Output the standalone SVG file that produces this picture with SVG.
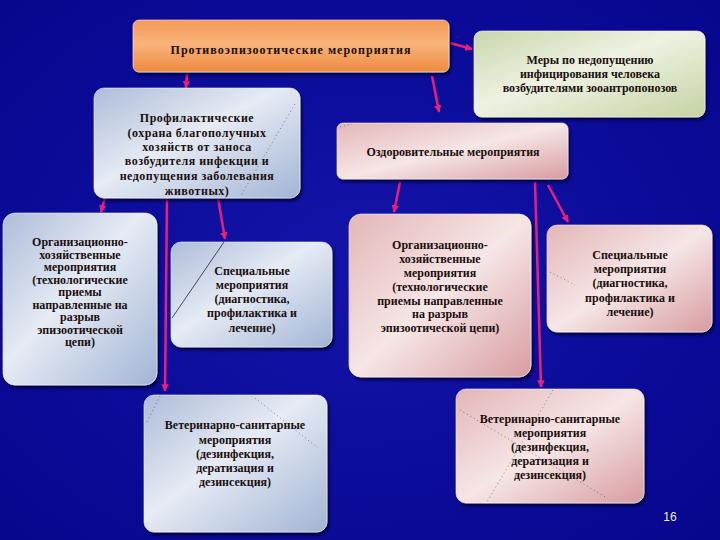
<svg xmlns="http://www.w3.org/2000/svg" width="720" height="540" viewBox="0 0 720 540">
<defs>
<radialGradient id="bg" cx="50%" cy="50%" r="75%">
<stop offset="0" stop-color="#1414aa"/>
<stop offset="1" stop-color="#05058c"/>
</radialGradient>
<linearGradient id="gOrange" x1="0" y1="0" x2="0" y2="1">
<stop offset="0" stop-color="#f49a58"/>
<stop offset="0.45" stop-color="#f8b47c"/>
<stop offset="1" stop-color="#ee8a3e"/>
</linearGradient>
<linearGradient id="gGreen" x1="0" y1="0" x2="1" y2="1">
<stop offset="0" stop-color="#c9d6ad"/>
<stop offset="0.45" stop-color="#eef2e2"/>
<stop offset="1" stop-color="#c4d3a3"/>
</linearGradient>
<linearGradient id="gBlue" x1="0" y1="0" x2="1" y2="1">
<stop offset="0" stop-color="#aebcd9"/>
<stop offset="0.45" stop-color="#e6ebf4"/>
<stop offset="1" stop-color="#a2b4d5"/>
</linearGradient>
<linearGradient id="gPink" x1="0" y1="0" x2="1" y2="1">
<stop offset="0" stop-color="#e3b6b8"/>
<stop offset="0.5" stop-color="#f6e6e6"/>
<stop offset="1" stop-color="#d89ca0"/>
</linearGradient>
<filter id="sh" x="-10%" y="-10%" width="125%" height="130%">
<feDropShadow dx="2" dy="3" stdDeviation="1.5" flood-color="#000030" flood-opacity="0.8"/>
</filter>
<marker id="ah" viewBox="0 0 10 10" refX="9" refY="5" markerWidth="3" markerHeight="3" orient="auto" markerUnits="strokeWidth">
<path d="M0,0 L10,5 L0,10 z" fill="#e8207a"/>
</marker>
</defs>
<style>
.box{stroke:#ffffff;stroke-opacity:0.55;stroke-width:1;filter:url(#sh)}
.t{font-family:"Liberation Serif","DejaVu Serif",serif;font-weight:bold;font-size:12px;fill:#1a0f0f;text-anchor:middle}
.w{letter-spacing:0.5px}
.c{stroke:#e8207a;stroke-width:2.5;fill:none;marker-end:url(#ah)}
.dot{stroke:#333344;stroke-width:0.8;stroke-dasharray:1 3;fill:none;opacity:0.7}
</style>
<rect width="720" height="540" fill="url(#bg)"/>

<g id="connectors">
<line class="c" x1="187" y1="73" x2="186" y2="88"/>
<line class="c" x1="450" y1="43" x2="472" y2="49"/>
<line class="c" x1="432" y1="76" x2="439" y2="112"/>
<line class="c" x1="105" y1="198" x2="101" y2="212"/>
<line class="c" x1="167" y1="198" x2="165" y2="391"/>
<line class="c" x1="218" y1="198" x2="225" y2="239"/>
<line class="c" x1="400" y1="182" x2="394" y2="212"/>
<line class="c" x1="535" y1="182" x2="541" y2="387"/>
<line class="c" x1="548" y1="185" x2="568" y2="222"/>
</g>

<g id="n-main">
<rect class="box" x="133" y="20" width="316" height="52" rx="6" fill="url(#gOrange)"/>
<text class="t" x="291" y="54" font-size="12.5" letter-spacing="1">Противоэпизоотические мероприятия</text>
</g>

<g id="n-human">
<rect class="box" x="474" y="31" width="231" height="86" rx="8" fill="url(#gGreen)"/>
<text class="t" x="590" y="64">Меры по недопущению</text>
<text class="t" x="590" y="78">инфицирования человека</text>
<text class="t" x="590" y="92">возбудителями зооантропонозов</text>
</g>

<g id="n-prof">
<rect class="box" x="94" y="88" width="206" height="110" rx="10" fill="url(#gBlue)"/>
<line class="dot" x1="295" y1="104" x2="240" y2="197"/>
<text class="t w" x="197" y="122">Профилактические</text>
<text class="t w" x="197" y="137">(охрана благополучных</text>
<text class="t w" x="197" y="151">хозяйств от заноса</text>
<text class="t w" x="197" y="165">возбудителя инфекции и</text>
<text class="t w" x="197" y="180">недопущения заболевания</text>
<text class="t w" x="197" y="195">животных)</text>
</g>

<g id="n-org-left">
<rect class="box" x="3" y="213" width="154" height="172" rx="12" fill="url(#gBlue)"/>
<text class="t" x="80" y="246">Организационно-</text>
<text class="t" x="80" y="258.5">хозяйственные</text>
<text class="t" x="80" y="271">мероприятия</text>
<text class="t" x="80" y="283.5">(технологические</text>
<text class="t" x="80" y="296">приемы</text>
<text class="t" x="80" y="308.5">направленные на</text>
<text class="t" x="80" y="321">разрыв</text>
<text class="t" x="80" y="333.5">эпизоотической</text>
<text class="t" x="80" y="346">цепи)</text>
</g>

<g id="n-spec-left">
<rect class="box" x="171" y="242" width="161" height="105" rx="10" fill="url(#gBlue)"/>
<line x1="224" y1="242" x2="172" y2="318" stroke="#222233" stroke-width="0.8"/>
<text class="t" x="252" y="275">Специальные</text>
<text class="t" x="252" y="289">мероприятия</text>
<text class="t" x="252" y="303">(диагностика,</text>
<text class="t" x="252" y="317">профилактика и</text>
<text class="t" x="252" y="332">лечение)</text>
</g>

<g id="n-vet-left">
<rect class="box" x="144" y="395" width="183" height="137" rx="10" fill="url(#gBlue)"/>
<line class="dot" x1="160" y1="396" x2="146" y2="424"/>
<line class="dot" x1="255" y1="398" x2="318" y2="448"/>
<text class="t" x="235" y="429">Ветеринарно-санитарные</text>
<text class="t" x="235" y="444">мероприятия</text>
<text class="t" x="235" y="458">(дезинфекция,</text>
<text class="t" x="235" y="472">дератизация и</text>
<text class="t" x="235" y="486">дезинсекция)</text>
</g>

<g id="n-ozd">
<rect class="box" x="337" y="123" width="231" height="56" rx="6" fill="url(#gPink)"/>
<line class="dot" x1="340" y1="127" x2="352" y2="124"/>
<text class="t" x="453" y="156">Оздоровительные мероприятия</text>
</g>

<g id="n-org-right">
<rect class="box" x="349" y="214" width="182" height="163" rx="12" fill="url(#gPink)"/>
<text class="t" x="440" y="249">Организационно-</text>
<text class="t" x="440" y="263">хозяйственные</text>
<text class="t" x="440" y="277">мероприятия</text>
<text class="t" x="440" y="291">(технологические</text>
<text class="t" x="440" y="305">приемы направленные</text>
<text class="t" x="440" y="318">на разрыв</text>
<text class="t" x="440" y="332">эпизоотической цепи)</text>
</g>

<g id="n-spec-right">
<rect class="box" x="547" y="225" width="165" height="107" rx="10" fill="url(#gPink)"/>
<line class="dot" x1="550" y1="272" x2="575" y2="285"/>
<text class="t" x="630" y="259">Специальные</text>
<text class="t" x="630" y="273">мероприятия</text>
<text class="t" x="630" y="287">(диагностика,</text>
<text class="t" x="630" y="302">профилактика и</text>
<text class="t" x="630" y="316">лечение)</text>
</g>

<g id="n-vet-right">
<rect class="box" x="456" y="389" width="188" height="114" rx="10" fill="url(#gPink)"/>
<line class="dot" x1="553" y1="390" x2="487" y2="502"/>
<line class="dot" x1="460" y1="410" x2="607" y2="498"/>
<text class="t" x="550" y="423">Ветеринарно-санитарные</text>
<text class="t" x="550" y="437">мероприятия</text>
<text class="t" x="550" y="451">(дезинфекция,</text>
<text class="t" x="550" y="465">дератизация и</text>
<text class="t" x="550" y="479">дезинсекция)</text>
</g>

<text x="670" y="521" font-family="'Liberation Sans','DejaVu Sans',sans-serif" font-size="12" fill="#f4f0c8" text-anchor="middle">16</text>
</svg>
